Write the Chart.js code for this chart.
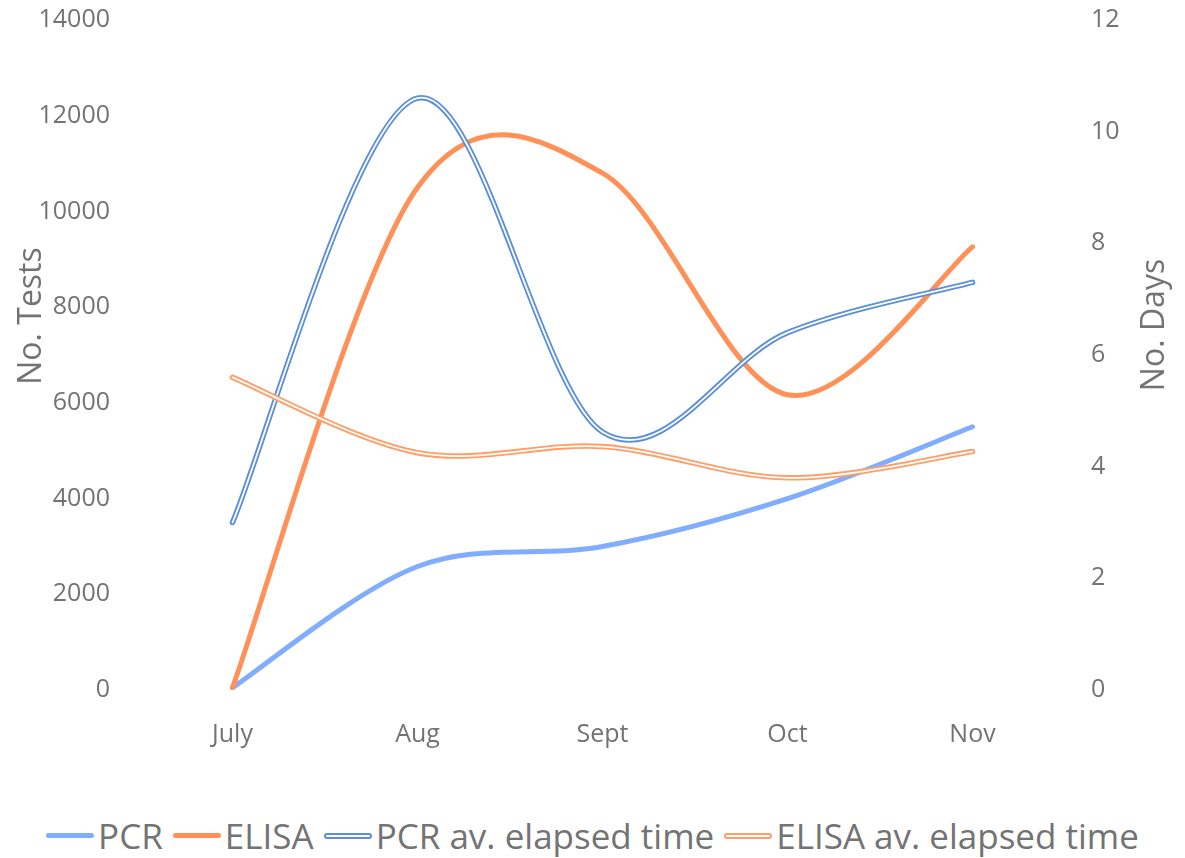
<!DOCTYPE html>
<html>
<head>
<meta charset="utf-8">
<script src="https://cdn.jsdelivr.net/npm/chart.js@4.4.0/dist/chart.umd.min.js"></script>
<style>
  body { margin: 0; background: #fff; font-family: "Open Sans", sans-serif; }
  #wrap { position: relative; width: 1185px; height: 858px; }
  #legend { position: absolute; left: 0; top: 812px; width: 1185px; display: flex; justify-content: center;
            align-items: center; font-size: 35px; color: #737373; white-space: nowrap; }
  .item { display: flex; align-items: center; margin: 0 5px; }
  .mark { width: 48px; height: 5px; border-radius: 3px; margin-right: 4px; box-sizing: border-box; }
  .dbl { height: 6px; background: #fff; border: 2px solid; }
</style>
</head>
<body>
<div id="wrap">
  <canvas id="myChart" width="1185" height="790"></canvas>
  <div id="legend"></div>
</div>
<script>
var months = ['July', 'Aug', 'Sept', 'Oct', 'Nov']
var pcr = [50, 2580, 3000, 4000, 5500]
var elisa = [50, 10500, 10800, 6170, 9260]
var pcrDays = [3.0, 10.6, 4.62, 6.4, 7.3]
var elisaDays = [5.6, 4.25, 4.36, 3.8, 4.27]
var testTicks = [0, 2000, 4000, 6000, 8000, 10000, 12000, 14000]
var dayTicks = [0, 2, 4, 6, 8, 10, 12]

const blue = '#80adfd'
const orange = '#ff9158'
const blueDbl = '#5b8fd9'
const orangeDbl = '#ff9e68'
const grey = '#737373'
const font = '"Open Sans", sans-serif'

function line(label, data, color, width, axis) {
  return {
    label: label, data: data, yAxisID: axis,
    borderColor: color, backgroundColor: color,
    borderWidth: width, pointRadius: 0, tension: 0.4,
    borderCapStyle: 'round', fill: false
  }
}

// dataset 0 is drawn on top, so the white cores come first
const data = {
  labels: months,
  datasets: [
    line('ELISA av. elapsed time core', elisaDays, '#ffffff', 1.8, 'y2'),
    line('ELISA av. elapsed time', elisaDays, orangeDbl, 5.5, 'y2'),
    line('PCR av. elapsed time core', pcrDays, '#ffffff', 1.8, 'y2'),
    line('PCR av. elapsed time', pcrDays, blueDbl, 5.5, 'y2'),
    line('ELISA', elisa, orange, 5, 'y'),
    line('PCR', pcr, blue, 5, 'y')
  ]
}

// office style smoothing: plain catmull-rom control points
const smooth = {
  id: 'smooth',
  beforeDatasetsDraw(chart) {
    chart.data.datasets.forEach(function (ds, i) {
      const meta = chart.getDatasetMeta(i)
      meta.dataset.updateControlPoints(chart.chartArea, 'x')
      const pts = meta.data
      const n = pts.length
      for (let j = 0; j < n; j++) {
        const prev = pts[Math.max(j - 1, 0)], next = pts[Math.min(j + 1, n - 1)], p = pts[j]
        const tx = (next.x - prev.x) / 6, ty = (next.y - prev.y) / 6
        p.cp1x = p.x - tx; p.cp1y = p.y - ty
        p.cp2x = p.x + tx; p.cp2y = p.y + ty
      }
    })
  }
}

const axisTitles = {
  id: 'axisTitles',
  afterDraw(chart) {
    const ctx = chart.ctx
    ctx.save()
    ctx.fillStyle = grey
    ctx.font = '32px ' + font
    ctx.textAlign = 'center'
    ctx.textBaseline = 'middle'
    ;[['No. Tests', 32, 316], ['No. Days', 1155, 325]].forEach(function (t) {
      ctx.save()
      ctx.translate(t[1], t[2])
      ctx.rotate(-Math.PI / 2)
      ctx.fillText(t[0], 0, 0)
      ctx.restore()
    })
    ctx.restore()
  }
}

function fixedTicks(list) {
  return function (scale) {
    scale.ticks = list.map(function (v) { return { value: v } })
  }
}

function fitY(width) {
  return function (scale) {
    scale.width = width
    scale.paddingTop = 0
    scale.paddingBottom = 0
  }
}

const tickFont = { family: font, size: 25 }

const config = {
  type: 'line',
  data: data,
  options: {
    responsive: false,
    animation: false,
    layout: { padding: { top: 20, left: 0, right: 0, bottom: 0 } },
    plugins: { legend: { display: false }, tooltip: { enabled: false } },
    scales: {
      x: {
        offset: true,
        grid: { display: false },
        border: { display: false },
        ticks: { color: grey, font: tickFont, padding: 22, maxRotation: 0 },
        afterFit(scale) { scale.height = 100 }
      },
      y: {
        position: 'left',
        min: 0, max: 14000,
        grid: { display: false },
        border: { display: false },
        afterBuildTicks: fixedTicks(testTicks),
        ticks: { color: grey, font: tickFont, padding: 22, callback: function (v) { return String(v) } },
        afterFit: fitY(140)
      },
      y2: {
        position: 'right',
        min: 0, max: 12,
        grid: { display: false },
        border: { display: false },
        afterBuildTicks: fixedTicks(dayTicks),
        ticks: { color: grey, font: tickFont, padding: 18, callback: function (v) { return String(v) } },
        afterFit: fitY(120)
      }
    }
  },
  plugins: [smooth, axisTitles]
}

const myChart = new Chart(document.getElementById('myChart'), config)

// legend in the order of the original
var legendItems = [
  ['PCR', blue, false],
  ['ELISA', orange, false],
  ['PCR av. elapsed time', blueDbl, true],
  ['ELISA av. elapsed time', orangeDbl, true]
]
var legend = document.getElementById('legend')
legendItems.forEach(function (it) {
  var item = document.createElement('div')
  item.className = 'item'
  var mark = document.createElement('span')
  mark.className = it[2] ? 'mark dbl' : 'mark'
  if (it[2]) mark.style.borderColor = it[1]
  else mark.style.background = it[1]
  var txt = document.createElement('span')
  txt.textContent = it[0]
  item.appendChild(mark)
  item.appendChild(txt)
  legend.appendChild(item)
})
</script>
</body>
</html>
